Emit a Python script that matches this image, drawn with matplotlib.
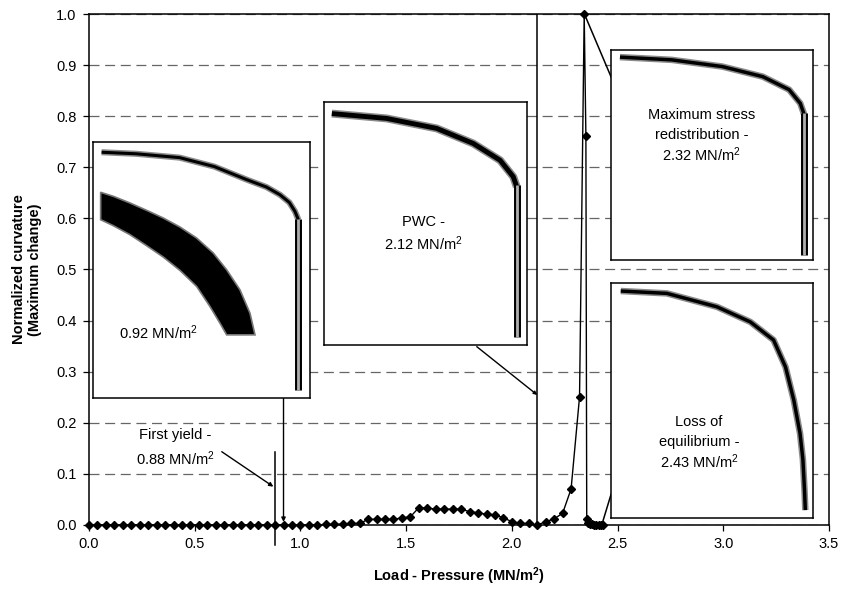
import matplotlib
matplotlib.use("Agg")
import matplotlib.pyplot as plt
import numpy as np

plt.rcParams['font.family'] = ['Liberation Sans', 'DejaVu Sans']
plt.rcParams['mathtext.fontset'] = 'custom'
plt.rcParams['mathtext.rm'] = 'Liberation Sans'
plt.rcParams['mathtext.it'] = 'Liberation Sans:italic'
plt.rcParams['mathtext.bf'] = 'Liberation Sans:bold'

# Load steps (MN/m^2) and normalized curvature response
load = [0.00, 0.04, 0.08, 0.12, 0.16, 0.20, 0.24, 0.28, 0.32, 0.36,
        0.40, 0.44, 0.48, 0.52, 0.56, 0.60, 0.64, 0.68, 0.72, 0.76,
        0.80, 0.84, 0.88, 0.92, 0.96, 1.00, 1.04, 1.08, 1.12, 1.16,
        1.20, 1.24, 1.28, 1.32, 1.36, 1.40, 1.44, 1.48, 1.52, 1.56,
        1.60, 1.64, 1.68, 1.72, 1.76, 1.80, 1.84, 1.88, 1.92, 1.96,
        2.00, 2.04, 2.08, 2.12, 2.16, 2.20, 2.24, 2.28, 2.32, 2.342,
        2.350, 2.354, 2.36, 2.37, 2.38, 2.39, 2.40, 2.41, 2.42, 2.43]
curvature = [0.0, 0.0, 0.0, 0.0, 0.0, 0.0, 0.0, 0.0, 0.0, 0.0,
             0.0, 0.0, 0.0, 0.0, 0.0, 0.0, 0.0, 0.0, 0.0, 0.0,
             0.0, 0.0, 0.0, 0.0, 0.0, 0.0, 0.0, 0.0, 0.001, 0.001,
             0.002, 0.003, 0.003, 0.011, 0.011, 0.011, 0.011, 0.014, 0.016, 0.034,
             0.033, 0.031, 0.031, 0.031, 0.031, 0.026, 0.024, 0.021, 0.020, 0.014,
             0.0065, 0.003, 0.003, 0.0, 0.0065, 0.012, 0.023, 0.0705, 0.251, 1.0,
             0.762, 0.012, 0.004, 0.002, 0.001, 0.0, 0.0, 0.0, 0.0, 0.0]

x_ticks = [0.0, 0.5, 1.0, 1.5, 2.0, 2.5, 3.0, 3.5]
y_ticks = [0.0, 0.1, 0.2, 0.3, 0.4, 0.5, 0.6, 0.7, 0.8, 0.9, 1.0]

# Key load stages
first_yield = 0.88
stage_092 = 0.92
pwc = 2.12
max_stress = 2.32
loss_eq = 2.43

fig = plt.figure(figsize=(8.41, 5.91), dpi=100)
ax = fig.add_axes([0.1058, 0.1117, 0.880, 0.8646])
ax.set_xlim(0, 3.5)
ax.set_ylim(0, 1.0)
ax.set_xticks(x_ticks)
ax.set_yticks(y_ticks)
ax.set_xticklabels([f"{v:.1f}" for v in x_ticks], fontsize=10.5)
ax.set_yticklabels([f"{v:.1f}" for v in y_ticks], fontsize=10.5)
ax.tick_params(direction='out', length=4, width=0.9, color='black', pad=5)
for s in ax.spines.values():
    s.set_linewidth(1.1)
    s.set_color('black')
ax.yaxis.grid(True, linestyle=(0, (8, 4.5)), color='#666666', linewidth=0.9)
ax.set_axisbelow(True)

ax.set_xlabel("Load - Pressure (MN/m$^\\mathbf{2}$)", fontsize=10.5,
              fontweight='bold', labelpad=10)
ax.set_ylabel("Normalized curvature\n(Maximum change)", fontsize=10.5,
              fontweight='bold', labelpad=10, linespacing=1.15)

# Main response curve
ax.plot(load, curvature, color='black', lw=1.0, marker='D', ms=4.3,
        mfc='black', mec='black', clip_on=False, zorder=4)

# Stage markers
ax.plot([pwc, pwc], [0.0, 1.0], color='black', lw=1.1, zorder=3)
ax.plot([first_yield, first_yield], [-0.039, 0.1435], color='black', lw=1.1,
        clip_on=False, zorder=3)
ax.annotate("", xy=(stage_092, 0.006), xytext=(stage_092, 0.248),
            arrowprops=dict(arrowstyle='-|>', color='black', lw=1.0,
                            mutation_scale=6, shrinkA=0, shrinkB=0))
ax.annotate("", xy=(first_yield - 0.008, 0.075), xytext=(0.628, 0.1434),
            arrowprops=dict(arrowstyle='-|>', color='black', lw=1.0,
                            mutation_scale=6, shrinkA=0, shrinkB=0))
ax.annotate("", xy=(pwc, 0.2545), xytext=(1.834, 0.349),
            arrowprops=dict(arrowstyle='-|>', color='black', lw=1.0,
                            mutation_scale=5, shrinkA=0, shrinkB=0))
ax.plot([2.343, 2.469], [1.0, 0.877], color='black', lw=1.1, zorder=3)
ax.plot([2.425, 2.469], [0.0, 0.06], color='black', lw=1.1, zorder=3)

ax.text(0.407, 0.176, "First yield -", ha='center', va='center', fontsize=10.5)
ax.text(0.407, 0.1305, "0.88 MN/m$^2$", ha='center', va='center', fontsize=10.5)


def make_inset(x0, x1, y0, y1):
    ia = ax.inset_axes([x0, y0, x1 - x0, y1 - y0], transform=ax.transData)
    ia.set_xlim(0, 1)
    ia.set_ylim(0, 1)
    ia.set_xticks([])
    ia.set_yticks([])
    ia.set_facecolor('white')
    for s in ia.spines.values():
        s.set_linewidth(1.1)
        s.set_color('black')
    ia.set_zorder(5)
    return ia


def deformed(ia, xs, ys, lw=3.0):
    ia.plot(xs, ys, color='#8a8a8a', lw=lw + 2.2, solid_capstyle='butt',
            solid_joinstyle='round')
    ia.plot(xs, ys, color='black', lw=lw, solid_capstyle='butt',
            solid_joinstyle='round')


def web(ia, x, y_top, y_bot):
    ia.plot([x, x], [y_top, y_bot], color='black', lw=5.0, solid_capstyle='butt')
    ia.plot([x, x], [y_top, y_bot], color='#b0b0b0', lw=2.0, solid_capstyle='butt')


# Inset: 0.92 MN/m^2
in1 = make_inset(0.0175, 1.045, 0.248, 0.749)
deformed(in1, [0.041, 0.20, 0.40, 0.56, 0.709, 0.80, 0.862, 0.905, 0.931, 0.947],
         [0.961, 0.955, 0.94, 0.905, 0.854, 0.825, 0.795, 0.765, 0.73, 0.697], lw=2.2)
web(in1, 0.947, 0.70, 0.032)
band_up_x = [0.0367, 0.0950, 0.1717, 0.2484, 0.3251, 0.4018, 0.4785,
             0.5552, 0.6166, 0.6779, 0.7240, 0.7470]
band_up_y = [0.8045, 0.7889, 0.7628, 0.7341, 0.7041, 0.6689, 0.6259,
             0.5672, 0.5020, 0.4237, 0.3324, 0.2477]
band_lo_x = [0.0367, 0.0950, 0.1717, 0.2484, 0.3251, 0.4018, 0.4785,
             0.5398, 0.5859, 0.6166]
band_lo_y = [0.6976, 0.6741, 0.6389, 0.5959, 0.5515, 0.4994, 0.4368,
             0.3585, 0.2933, 0.2477]
poly_x = band_up_x + band_lo_x[::-1]
poly_y = band_up_y + band_lo_y[::-1]
in1.fill(poly_x, poly_y, color='black', ec='#777777', lw=1.2)
in1.text(0.303, 0.257, "0.92 MN/m$^2$", ha='center', va='center', fontsize=10.5)

# Inset: PWC
in2 = make_inset(1.112, 2.073, 0.352, 0.828)
deformed(in2, [0.038, 0.308, 0.554, 0.734, 0.866, 0.931, 0.948],
         [0.952, 0.932, 0.891, 0.829, 0.760, 0.692, 0.651], lw=3.5)
web(in2, 0.951, 0.66, 0.034)
in2.text(0.489, 0.505, "PWC -", ha='center', va='center', fontsize=10.5)
in2.text(0.489, 0.415, "2.12 MN/m$^2$", ha='center', va='center', fontsize=10.5)

# Inset: maximum stress redistribution
in3 = make_inset(2.469, 3.426, 0.519, 0.93)
deformed(in3, [0.044, 0.30, 0.55, 0.75, 0.88, 0.935, 0.955],
         [0.965, 0.952, 0.920, 0.872, 0.810, 0.745, 0.69], lw=2.5)
web(in3, 0.955, 0.70, 0.025)
in3.text(0.448, 0.69, "Maximum stress", ha='center', va='center', fontsize=10.5)
in3.text(0.448, 0.595, "redistribution -", ha='center', va='center', fontsize=10.5)
in3.text(0.448, 0.50, "2.32 MN/m$^2$", ha='center', va='center', fontsize=10.5)

# Inset: loss of equilibrium
in4 = make_inset(2.469, 3.426, 0.013, 0.474)
deformed(in4, [0.048, 0.276, 0.523, 0.688, 0.803, 0.862, 0.903, 0.934, 0.948, 0.956, 0.960],
         [0.965, 0.955, 0.898, 0.834, 0.757, 0.643, 0.502, 0.36, 0.25, 0.12, 0.035], lw=2.5)
in4.text(0.435, 0.41, "Loss of", ha='center', va='center', fontsize=10.5)
in4.text(0.435, 0.325, "equilibrium -", ha='center', va='center', fontsize=10.5)
in4.text(0.435, 0.24, "2.43 MN/m$^2$", ha='center', va='center', fontsize=10.5)

fig.savefig("out.png", dpi=100, facecolor='white')
